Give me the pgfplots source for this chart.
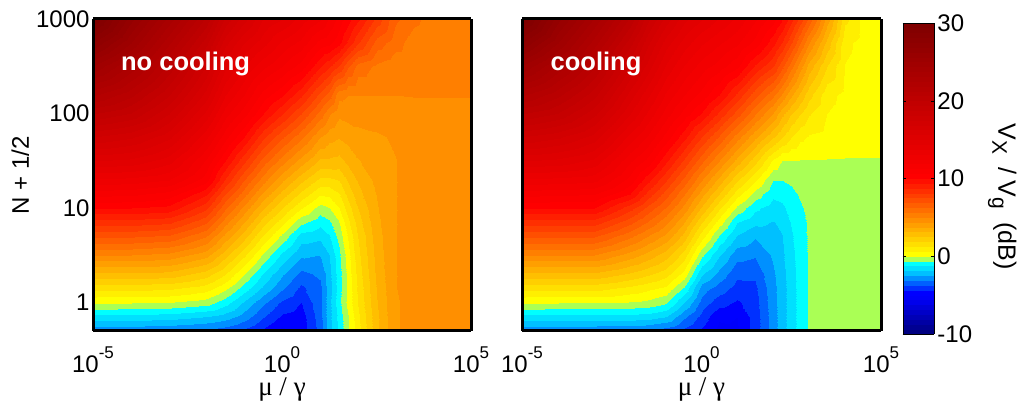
\documentclass[border=0pt]{standalone}
\usepackage{pgfplots}
\pgfplotsset{compat=1.18}
\usepackage{fontspec}
\setmainfont{Liberation Sans}
\newfontfamily\serifgr{Liberation Serif}
\newcommand{\lab}{\fontsize{24}{28}\selectfont}
\newcommand{\ex}[1]{\raisebox{14pt}{\fontsize{17}{17}\selectfont #1}}
\newcommand{\sub}[1]{\raisebox{-6pt}{\fontsize{21}{21}\selectfont #1}}
\pgfplotsset{
  sheet/.style={
    scale only axis, anchor=south west, height=312pt,
    xmin=-5, xmax=5, ymin=-0.30103, ymax=3,
    point meta min=-10, point meta max=30,
    xtick={-5,0,5}, ytick={0,1,2,3},
    xticklabels={10\ex{-5},10\ex{0},10\ex{5}},
    tick style={draw=none}, axis line style={line width=3pt},
    axis on top, tick label style={font=\lab},
    xticklabel style={yshift=-12pt},
    xlabel={\serifgr\fontsize{27}{30}\selectfont μ / γ},
    xlabel style={yshift=2pt},
    view={0}{90},
  },
  fld/.style={surf, shader=interp, point meta=z},
}
\pgfplotsset{colormap={bands}{rgb255=(0,0,128) rgb255=(0,0,146) rgb255=(0,0,164) rgb255=(0,0,182) rgb255=(0,0,200) rgb255=(0,0,218) rgb255=(0,0,236) rgb255=(0,0,250)
  rgb255=(0,0,255) rgb255=(0,48,255) rgb255=(0,96,255) rgb255=(0,144,255) rgb255=(0,192,255) rgb255=(0,224,255) rgb255=(0,255,255) rgb255=(170,255,85)
  rgb255=(255,255,0) rgb255=(255,239,0) rgb255=(255,223,0) rgb255=(255,207,0) rgb255=(255,191,0) rgb255=(255,175,0) rgb255=(255,159,0) rgb255=(255,143,0)
  rgb255=(255,127,0) rgb255=(255,111,0) rgb255=(255,95,0) rgb255=(255,79,0) rgb255=(255,63,0) rgb255=(255,47,0) rgb255=(255,31,0) rgb255=(255,15,0)
  rgb255=(255,0,0) rgb255=(251,0,0) rgb255=(247,0,0) rgb255=(243,0,0) rgb255=(239,0,0) rgb255=(235,0,0) rgb255=(230,0,0) rgb255=(226,0,0)
  rgb255=(222,0,0) rgb255=(218,0,0) rgb255=(214,0,0) rgb255=(210,0,0) rgb255=(206,0,0) rgb255=(202,0,0) rgb255=(198,0,0) rgb255=(194,0,0)
  rgb255=(189,0,0) rgb255=(185,0,0) rgb255=(181,0,0) rgb255=(177,0,0) rgb255=(173,0,0) rgb255=(169,0,0) rgb255=(165,0,0) rgb255=(161,0,0)
  rgb255=(157,0,0) rgb255=(153,0,0) rgb255=(148,0,0) rgb255=(144,0,0) rgb255=(140,0,0) rgb255=(136,0,0) rgb255=(132,0,0) rgb255=(128,0,0)}}
\pgfplotsset{colormap access=piecewise constant}
\begin{document}
\begin{tikzpicture}[x=1pt,y=1pt]
\useasboundingbox (0,0) rectangle (1018,404);
\begin{axis}[sheet, at={(93pt,73pt)}, width=378pt,
  yticklabels={1,10,100,1000}, ylabel={\lab N + 1/2}, ylabel style={yshift=0pt}]
\addplot3[fld, mesh/cols=19] table[x index=0, y index=1, z index=2] {
-5 -.301 -3
-4 -.301 -3
-3 -.301 -3.1
-2 -.301 -3.3
-1.5 -.301 -3.5
-1 -.301 -3.9
-.5 -.301 -4.5
0 -.301 -5.2
.5 -.301 -4.8
1 -.301 -3.5
1.25 -.301 -2.2
1.5 -.301 -1.1
1.75 -.301 -.1
2 -.301 1
2.5 -.301 3
3 -.301 4.3
3.5 -.301 4.6
4 -.301 4.7
5 -.301 4.7
-5 -.15 -1.5
-4 -.15 -1.5
-3 -.15 -1.6
-2 -.15 -1.9
-1.5 -.15 -2.2
-1 -.15 -2.8
-.5 -.15 -3.7
0 -.15 -4.5
.5 -.15 -4.7
1 -.15 -3.4
1.25 -.15 -2.1
1.5 -.15 -1
1.75 -.15 -.05
2 -.15 1.1
2.5 -.15 3
3 -.15 4.3
3.5 -.15 4.6
4 -.15 4.7
5 -.15 4.7
-5 0 .05
-4 0 0
-3 0 -.05
-2 0 -.35
-1.5 0 -1
-1 0 -2
-.5 0 -3
0 0 -3.9
.5 0 -4.4
1 0 -3.3
1.25 0 -2.1
1.5 0 -.8
1.75 0 .2
2 0 1.3
2.5 0 3.1
3 0 4.3
3.5 0 4.6
4 0 4.7
5 0 4.7
-5 .15 1.5
-4 .15 1.5
-3 .15 1.4
-2 .15 .95
-1.5 .15 .2
-1 .15 -.9
-.5 .15 -2
0 .15 -3
.5 .15 -3.9
1 .15 -3.3
1.25 .15 -2.2
1.5 .15 -.9
1.75 .15 .2
2 .15 1.4
2.5 .15 3.2
3 .15 4.35
3.5 .15 4.6
4 .15 4.7
5 .15 4.7
-5 .3 3
-4 .3 3
-3 .3 2.9
-2 .3 2.2
-1.5 .3 1.3
-1 .3 0
-.5 .3 -1.3
0 .3 -2.4
.5 .3 -3.3
1 .3 -3
1.25 .3 -2.1
1.5 .3 -.9
1.75 .3 .25
2 .3 1.5
2.5 .3 3.3
3 .3 4.35
3.5 .3 4.6
4 .3 4.7
5 .3 4.7
-5 .5 5
-4 .5 5
-3 .5 4.8
-2 .5 4
-1.5 .5 2.75
-1 .5 1.4
-.5 .5 -.1
0 .5 -1.4
.5 .5 -2.4
1 .5 -2.5
1.25 .5 -1.9
1.5 .5 -.8
1.75 .5 .4
2 .5 1.7
2.5 .5 3.4
3 .5 4.35
3.5 .5 4.6
4 .5 4.7
5 .5 4.7
-5 .7 7
-4 .7 7
-3 .7 6.8
-2 .7 5.7
-1.5 .7 4.2
-1 .7 2.8
-.5 .7 1.2
0 .7 -.15
.5 .7 -1.5
1 .7 -1.7
1.25 .7 -1.3
1.5 .7 -.4
1.75 .7 .7
2 .7 1.9
2.5 .7 3.5
3 .7 4.35
3.5 .7 4.6
4 .7 4.7
5 .7 4.7
-5 .85 8.5
-4 .85 8.5
-3 .85 8.3
-2 .85 7
-1.5 .85 5.3
-1 .85 3.8
-.5 .85 2.2
0 .85 .9
.5 .85 -.45
1 .85 -1
1.25 .85 -.75
1.5 .85 0
1.75 .85 1.1
2 .85 2.2
2.5 .85 3.6
3 .85 4.35
3.5 .85 4.6
4 .85 4.7
5 .85 4.7
-5 1 10
-4 1 10
-3 1 9.8
-2 1 8.3
-1.5 1 6.4
-1 1 4.8
-.5 1 3.2
0 1 1.9
.5 1 .7
1 1 -.25
1.25 1 -.05
1.5 1 .6
1.75 1 1.6
2 1 2.5
2.5 1 3.7
3 1 4.35
3.5 1 4.6
4 1 4.7
5 1 4.7
-5 1.15 11.5
-4 1.15 11.4
-3 1.15 11
-2 1.15 9.5
-1.5 1.15 7.5
-1 1.15 5.9
-.5 1.15 4.25
0 1.15 2.9
.5 1.15 1.7
1 1.15 .7
1.25 1.15 .8
1.5 1.15 1.2
1.75 1.15 2.1
2 1.15 2.9
2.5 1.15 3.8
3 1.15 4.35
3.5 1.15 4.6
4 1.15 4.7
5 1.15 4.7
-5 1.3 13
-4 1.3 12.9
-3 1.3 12.5
-2 1.3 10.9
-1.5 1.3 8.7
-1 1.3 6.9
-.5 1.3 5.3
0 1.3 3.9
.5 1.3 2.7
1 1.3 1.7
1.25 1.3 1.7
1.5 1.3 1.9
1.75 1.3 2.6
2 1.3 3.2
2.5 1.3 3.95
3 1.3 4.35
3.5 1.3 4.6
4 1.3 4.7
5 1.3 4.7
-5 1.5 15
-4 1.5 14.8
-3 1.5 14
-2 1.5 11.8
-1.5 1.5 10
-1 1.5 8.3
-.5 1.5 6.6
0 1.5 5.3
.5 1.5 4.1
1 1.5 3
1.25 1.5 3
1.5 1.5 2.9
1.75 1.5 3.3
2 1.5 3.7
2.5 1.5 4.05
3 1.5 4.35
3.5 1.5 4.6
4 1.5 4.7
5 1.5 4.7
-5 1.75 17.5
-4 1.75 17
-3 1.75 15.8
-2 1.75 13.3
-1.5 1.75 11.5
-1 1.75 10
-.5 1.75 8.3
0 1.75 7
.5 1.75 5.8
1 1.75 4.4
1.25 1.75 4
1.5 1.75 3.8
1.75 1.75 4
2 1.75 4.2
2.5 1.75 4.3
3 1.75 4.45
3.5 1.75 4.65
4 1.75 4.7
5 1.75 4.7
-5 2 20
-4 2 19.3
-3 2 17.5
-2 2 14.8
-1.5 2 12.8
-1 2 11.5
-.5 2 10
0 2 8.8
.5 2 7.5
1 2 6
1.25 2 5.1
1.5 2 4.5
1.75 2 4.6
2 2 4.6
2.5 2 4.65
3 2 4.8
3.5 2 4.85
4 2 4.85
5 2 4.85
-5 2.2 22
-4 2.2 20.8
-3 2.2 18.8
-2 2.2 16
-1.5 2.2 13.8
-1 2.2 12.5
-.5 2.2 11
0 2.2 10.1
.5 2.2 8.9
1 2.2 7.3
1.25 2.2 6.6
1.5 2.2 5.2
1.75 2.2 5
2 2.2 5
2.5 2.2 5
3 2.2 5
3.5 2.2 5.02
4 2.2 5.02
5 2.2 5.02
-5 2.5 25
-4 2.5 23
-3 2.5 20.5
-2 2.5 17.5
-1.5 2.5 15.2
-1 2.5 13.8
-.5 2.5 12.7
0 2.5 11.9
.5 2.5 11
1 2.5 9.5
1.25 2.5 8.9
1.5 2.5 8.1
1.75 2.5 7
2 2.5 6
2.5 2.5 5.5
3 2.5 5.2
3.5 2.5 5.1
4 2.5 5.1
5 2.5 5.1
-5 2.75 27.5
-4 2.75 25
-3 2.75 22
-2 2.75 19
-1.5 2.75 16.5
-1 2.75 15
-.5 2.75 14
0 2.75 13
.5 2.75 12.3
1 2.75 11
1.25 2.75 10.8
1.5 2.75 10.2
1.75 2.75 9.2
2 2.75 8.2
2.5 2.75 6.6
3 2.75 5.9
3.5 2.75 5.3
4 2.75 5.1
5 2.75 5.1
-5 3 30
-4 3 26.5
-3 3 23.5
-2 3 20.5
-1.5 3 18
-1 3 16.5
-.5 3 15
0 3 14.4
.5 3 13.5
1 3 12.6
1.25 3 11.8
1.5 3 11
1.75 3 10.3
2 3 9.5
2.5 3 7.9
3 3 6.4
3.5 3 5.8
4 3 5.3
5 3 5.1
};
\node[white, font=\fontsize{25.5}{30}\selectfont\bfseries, anchor=base west] at (axis cs:-4.35,2.46) {no cooling};
\end{axis}
\begin{axis}[sheet, at={(522pt,73pt)}, width=359pt, yticklabels={},
  colorbar, colorbar style={at={(1.061,-0.0096)}, anchor=south west, width=31pt, height=311pt,
    ytick={-10,0,10,20,30}, tick style={draw=black}, axis line style={line width=0.8pt},
    major tick length=3pt, yticklabel style={font=\lab, /pgf/number format/assume math mode=true},
    ylabel={\fontsize{25}{28}\selectfont V\sub{X}\hspace{6pt} / V\sub{g}\hspace{6pt} (dB)}, ylabel style={rotate=180, yshift=9pt, xshift=18pt}}]
\addplot3[fld, mesh/cols=20] table[x index=0, y index=1, z index=2] {
-5 -.301 -3
-4 -.301 -3
-3 -.301 -3.05
-2 -.301 -3.1
-1.5 -.301 -3.2
-1 -.301 -3.5
-.5 -.301 -3.95
0 -.301 -4.5
.5 -.301 -5.2
1 -.301 -5.1
1.5 -.301 -4.1
2 -.301 -2.8
2.25 -.301 -2.15
2.5 -.301 -1.55
2.75 -.301 -1
3 -.301 -.55
3.5 -.301 -.3
4 -.301 -.3
4.5 -.301 -.3
5 -.301 -.3
-5 -.15 -1.5
-4 -.15 -1.5
-3 -.15 -1.5
-2 -.15 -1.5
-1.5 -.15 -1.6
-1 -.15 -1.9
-.5 -.15 -3
0 -.15 -4
.5 -.15 -4.9
1 -.15 -5
1.5 -.15 -4.1
2 -.15 -2.8
2.25 -.15 -2.15
2.5 -.15 -1.55
2.75 -.15 -1
3 -.15 -.55
3.5 -.15 -.3
4 -.15 -.3
4.5 -.15 -.3
5 -.15 -.3
-5 0 .05
-4 0 0
-3 0 -.05
-2 0 -.1
-1.5 0 -.2
-1 0 -.55
-.5 0 -1.9
0 0 -3.4
.5 0 -4.1
1 0 -4.5
1.5 0 -4
2 0 -2.75
2.25 0 -2.15
2.5 0 -1.55
2.75 0 -1
3 0 -.55
3.5 0 -.3
4 0 -.3
4.5 0 -.3
5 0 -.3
-5 .15 1.5
-4 .15 1.5
-3 .15 1.5
-2 .15 1.1
-1.5 .15 .8
-1 .15 .5
-.5 .15 -.7
0 .15 -2.8
.5 .15 -3.4
1 .15 -4
1.5 .15 -3.9
2 .15 -2.7
2.25 .15 -2.15
2.5 .15 -1.55
2.75 .15 -1
3 .15 -.55
3.5 .15 -.3
4 .15 -.3
4.5 .15 -.3
5 .15 -.3
-5 .3 3
-4 .3 3
-3 .3 3
-2 .3 2.4
-1.5 .3 2
-1 .3 1.5
-.5 .3 .4
0 .3 -1.8
.5 .3 -2.7
1 .3 -3.6
1.5 .3 -3.6
2 .3 -2.6
2.25 .3 -2.1
2.5 .3 -1.5
2.75 .3 -1
3 .3 -.55
3.5 .3 -.3
4 .3 -.3
4.5 .3 -.3
5 .3 -.3
-5 .5 5
-4 .5 5
-3 .5 5
-2 .5 4.1
-1.5 .5 3.5
-1 .5 2.8
-.5 .5 1.6
0 .5 -.5
.5 .5 -1.8
1 .5 -2.9
1.5 .5 -3.05
2 .5 -2.4
2.25 .5 -2
2.5 .5 -1.45
2.75 .5 -.95
3 .5 -.55
3.5 .5 -.3
4 .5 -.3
4.5 .5 -.3
5 .5 -.3
-5 .7 7
-4 .7 7
-3 .7 7
-2 .7 5.8
-1.5 .7 5
-1 .7 4.2
-.5 .7 2.9
0 .7 .9
.5 .7 -.65
1 .7 -1.9
1.5 .7 -2.4
2 .7 -2.2
2.25 .7 -1.9
2.5 .7 -1.35
2.75 .7 -.9
3 .7 -.55
3.5 .7 -.3
4 .7 -.3
4.5 .7 -.3
5 .7 -.3
-5 .85 8.5
-4 .85 8.5
-3 .85 8.5
-2 .85 7.1
-1.5 .85 6.2
-1 .85 5.2
-.5 .85 3.8
0 .85 1.9
.5 .85 .35
1 .85 -1.2
1.5 .85 -1.7
2 .85 -1.9
2.25 .85 -1.7
2.5 .85 -1.2
2.75 .85 -.8
3 .85 -.55
3.5 .85 -.3
4 .85 -.3
4.5 .85 -.3
5 .85 -.3
-5 1 10
-4 1 10
-3 1 10
-2 1 8.4
-1.5 1 7.3
-1 1 6.2
-.5 1 4.8
0 1 3
.5 1 1.4
1 1 -.15
1.5 1 -1.1
2 1 -1.55
2.25 1 -1.4
2.5 1 -1
2.75 1 -.7
3 1 -.5
3.5 1 -.3
4 1 -.3
4.5 1 -.3
5 1 -.3
-5 1.15 11.5
-4 1.15 11.4
-3 1.15 11.3
-2 1.15 10
-1.5 1.15 8.5
-1 1.15 7.2
-.5 1.15 5.7
0 1.15 4
.5 1.15 2.5
1 1.15 .9
1.5 1.15 -.25
2 1.15 -1.1
2.25 1.15 -1
2.5 1.15 -.8
2.75 1.15 -.55
3 1.15 -.45
3.5 1.15 -.3
4 1.15 -.3
4.5 1.15 -.3
5 1.15 -.3
-5 1.3 13
-4 1.3 12.9
-3 1.3 12.7
-2 1.3 11
-1.5 1.3 9.6
-1 1.3 8.2
-.5 1.3 6.7
0 1.3 5
.5 1.3 3.55
1 1.3 2
1.5 1.3 .7
2 1.3 -.6
2.25 1.3 -.62
2.5 1.3 -.5
2.75 1.3 -.35
3 1.3 -.3
3.5 1.3 -.3
4 1.3 -.3
4.5 1.3 -.3
5 1.3 -.3
-5 1.5 15
-4 1.5 14.8
-3 1.5 14.2
-2 1.5 12
-1.5 1.5 11
-1 1.5 9.5
-.5 1.5 8
0 1.5 6.4
.5 1.5 5
1 1.5 3.5
1.5 1.5 2.1
2 1.5 .5
2.25 1.5 -.02
2.5 1.5 -.05
2.75 1.5 -.05
3 1.5 -.05
3.5 1.5 -.05
4 1.5 -.05
4.5 1.5 -.05
5 1.5 -.05
-5 1.75 17.5
-4 1.75 17
-3 1.75 16
-2 1.75 13.5
-1.5 1.75 12.4
-1 1.75 11
-.5 1.75 9.6
0 1.75 8.1
.5 1.75 6.8
1 1.75 5.3
1.5 1.75 3.9
2 1.75 2.6
2.25 1.75 1.9
2.5 1.75 1.3
2.75 1.75 .8
3 1.75 .55
3.5 1.75 .4
4 1.75 .3
4.5 1.75 .3
5 1.75 .3
-5 2 20
-4 2 19.3
-3 2 17.7
-2 2 15
-1.5 2 13.6
-1 2 12.2
-.5 2 11
0 2 9.9
.5 2 8.6
1 2 7.2
1.5 2 5.7
2 2 4.3
2.25 2 3.3
2.5 2 2.5
2.75 2 1.9
3 2 1.3
3.5 2 .62
4 2 .35
4.5 2 .3
5 2 .3
-5 2.2 22
-4 2.2 20.8
-3 2.2 19
-2 2.2 16
-1.5 2.2 14.5
-1 2.2 13
-.5 2.2 11.9
0 2.2 11
.5 2.2 10
1 2.2 8.6
1.5 2.2 7.1
2 2.2 5.8
2.25 2.2 4.9
2.5 2.2 3.9
2.75 2.2 3
3 2.2 2.1
3.5 2.2 .85
4 2.2 .45
4.5 2.2 .3
5 2.2 .3
-5 2.5 25
-4 2.5 23
-3 2.5 20.8
-2 2.5 17.6
-1.5 2.5 16
-1 2.5 14.3
-.5 2.5 13.1
0 2.5 12.2
.5 2.5 11.6
1 2.5 10.8
1.5 2.5 9.3
2 2.5 8.2
2.25 2.5 7.1
2.5 2.5 5.9
2.75 2.5 4.7
3 2.5 3.5
3.5 2.5 1.9
4 2.5 .6
4.5 2.5 .35
5 2.5 .3
-5 2.75 27.5
-4 2.75 25
-3 2.75 22.2
-2 2.75 19
-1.5 2.75 17
-1 2.75 15.3
-.5 2.75 14.1
0 2.75 13.2
.5 2.75 12.6
1 2.75 12
1.5 2.75 11
2 2.75 9.6
2.25 2.75 8.7
2.5 2.75 7.6
2.75 2.75 6.3
3 2.75 5
3.5 2.75 2.9
4 2.75 .8
4.5 2.75 .4
5 2.75 .3
-5 3 30
-4 3 26.5
-3 3 23.7
-2 3 20.5
-1.5 3 18.3
-1 3 16.6
-.5 3 15.2
0 3 14.4
.5 3 13.7
1 3 13
1.5 3 12
2 3 10.9
2.25 3 10.1
2.5 3 9
2.75 3 7.9
3 3 6.7
3.5 3 4.1
4 3 1.4
4.5 3 .45
5 3 .35
};
\node[white, font=\fontsize{25.5}{30}\selectfont\bfseries, anchor=base west] at (axis cs:-4.3,2.46) {cooling};
\end{axis}
\end{tikzpicture}
\end{document}
